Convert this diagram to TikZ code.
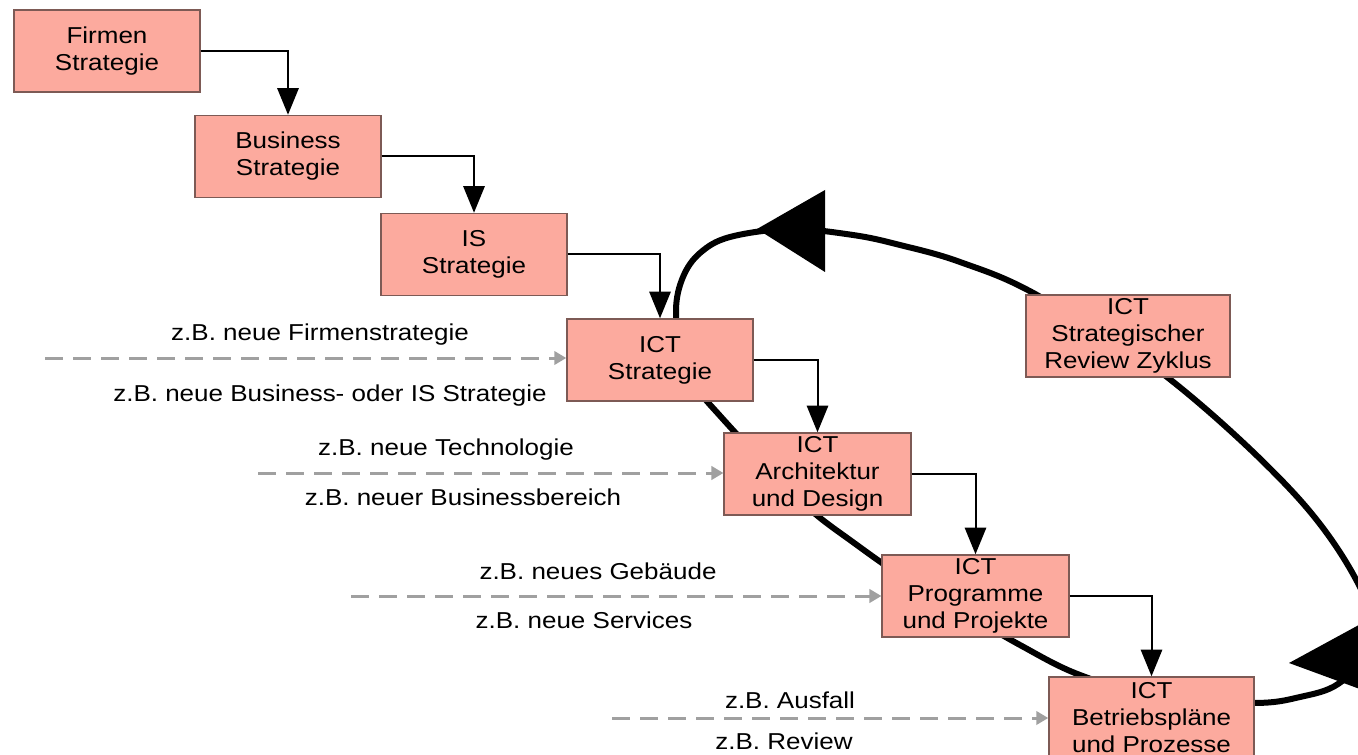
\documentclass[tikz,border=0pt]{standalone}
\usepackage{fontspec}
\setmainfont{Liberation Sans}[FakeStretch=1.13]
\usetikzlibrary{arrows.meta}
\definecolor{boxfill}{RGB}{252,170,158}
\definecolor{boxline}{RGB}{125,90,85}
\definecolor{hint}{RGB}{160,160,160}
\tikzset{
  stepbox/.style={draw=boxline, line width=1.1pt, fill=boxfill, align=center, inner sep=0pt,
    minimum height=61.5pt, font=\fontsize{17.25}{20.25}\selectfont},
  flow/.style={line width=1.5pt, -{Triangle[length=20pt,width=16pt]}},
  hintarrow/.style={draw=hint, line width=2.25pt, dash pattern=on 13.5pt off 7.5pt,
    -{Triangle[length=9pt,width=10pt]}},
  hintlabel/.style={inner sep=0pt, font=\fontsize{17.25}{20.25}\selectfont},
  cycleline/.style={line width=4.5pt, black}
}
\begin{document}
\begin{tikzpicture}[x=0.75pt, y=-0.75pt]
\useasboundingbox (0,0) rectangle (1358,755);
\clip (0,0) rectangle (1358,755);
% big review loop
\draw[cycleline] plot[smooth cycle, tension=0.6] coordinates {
 (853,235) (790,229) (730,237) (700,253) (683,277) (676,310) (682,355) (697,388)
 (722,418) (775,475) (813,512) (850,540) (900,575) (960,610) (1020,645) (1080,675)
 (1160,698) (1254,703) (1300,697) (1338,684) (1366,652) (1366,600)
 (1300,500) (1167,377) (1037,295) (960,262) (900,245)};
\fill (757,229) -- (825,190) -- (825,272) -- cycle;
\fill (1289,663) -- (1379,614) -- (1368,692) -- cycle;
% boxes
\node[stepbox, minimum width=139.5pt] (firmen) at (107,51) {Firmen\\Strategie};
\node[stepbox, minimum width=139.5pt] (business) at (288,156.5) {Business\\Strategie};
\node[stepbox, minimum width=139.5pt] (is) at (474,254.5) {IS\\Strategie};
\node[stepbox, minimum width=139.5pt] (ict) at (660,360) {ICT\\Strategie};
\node[stepbox, minimum width=140pt] (arch) at (817.5,474) {ICT\\Architektur\\und Design};
\node[stepbox, minimum width=140pt] (prog) at (975.5,596) {ICT\\Programme\\und Projekte};
\node[stepbox, minimum width=153.75pt] (betr) at (1151.5,718) {ICT\\Betriebspläne\\und Prozesse};
\node[stepbox, minimum width=153pt] (review) at (1128,336) {ICT\\Strategischer\\Review Zyklus};
% flow connectors
\draw[flow] (firmen.east) -| (business.north);
\draw[flow] (business.east) -| (is.north);
\draw[flow] (is.east) -| (ict.north);
\draw[flow] (ict.east) -| (arch.north);
\draw[flow] (arch.east) -| (prog.north);
\draw[flow] (prog.east) -| (betr.north);
% trigger arrows
\coordinate (s1) at (45,358);
\coordinate (s2) at (258,473);
\coordinate (s3) at (351,596);
\coordinate (s4) at (612,718);
\draw[hintarrow] (s1) -- (s1 -| ict.west);
\draw[hintarrow] (s2) -- (s2 -| arch.west);
\draw[hintarrow] (s3) -- (s3 -| prog.west);
\draw[hintarrow] (s4) -- (s4 -| betr.west);
% labels
\node[hintlabel] (l1a) at (320,335) {z.B. neue Firmenstrategie};
\node[hintlabel] (l1b) at (330,396) {z.B. neue Business- oder IS Strategie};
\node[hintlabel] (l2a) at (446,450) {z.B. neue Technologie};
\node[hintlabel] (l2b) at (463,497) {z.B. neuer Businessbereich};
\node[hintlabel] (l3a) at (598,571) {z.B. neues Gebäude};
\node[hintlabel] (l3b) at (584,620) {z.B. neue Services};
\node[hintlabel] (l4a) at (790,700) {z.B. Ausfall};
\node[hintlabel] (l4b) at (784,741) {z.B. Review};
\end{tikzpicture}
\end{document}
